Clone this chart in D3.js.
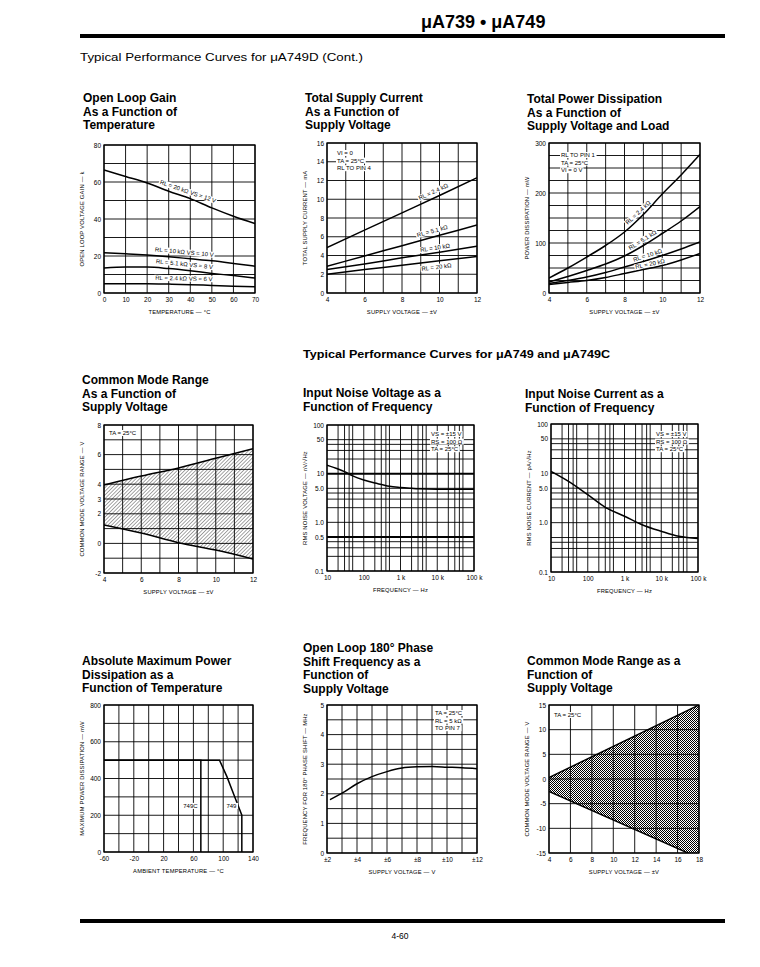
<!DOCTYPE html>
<html>
<head>
<meta charset="utf-8">
<script src="https://d3js.org/d3.v7.min.js"></script>
<style>
  body { margin: 0; background: #fff; }
  svg text { font-family: "Liberation Sans", Arial, sans-serif; fill: #000; }
  .title { font-weight: bold; font-size: 12px; }
  .axis text { font-size: 6.5px; }
  .axt { font-size: 5.8px; letter-spacing: 0.2px; }
  .note, .tag { font-size: 6px; }
  .grid { stroke: #000; stroke-width: 0.9; }
  .frame { fill: none; stroke: #000; stroke-width: 1.3; }
  .curve { fill: none; stroke: #000; stroke-width: 1.5; }
</style>
</head>
<body>
<svg id="page" width="760" height="967"></svg>
<script>
// ---------- data ----------

// open loop gain vs temperature
var gainTemp = [0, 10, 20, 30, 40, 50, 60, 70];
var gain20k = [66.5, 63, 59.5, 55, 51, 46, 41.5, 37.5];
var gain10k = [21.8, 21.2, 20.5, 19.6, 18.5, 17.4, 16, 14.5];
var gain51k = [13.5, 14, 14, 13.2, 12, 10.6, 9.4, 8.1];
var gain24k = [5, 5, 5, 4.8, 4.5, 4.1, 3.7, 3.4];

// total supply current vs supply voltage
var curVolt = [4, 6, 8, 10, 12];
var cur24k = [4.85, 6.7, 8.55, 10.4, 12.3];
var cur51k = [2.85, 3.95, 5.05, 6.15, 7.25];
var cur10k = [2.5, 3.1, 3.75, 4.35, 5.0];
var cur20k = [2.0, 2.5, 2.95, 3.45, 3.9];

// total power dissipation vs supply voltage
var pwrVolt = [4, 5, 6, 7, 8, 9, 10, 11, 12];
var pwr24k = [30, 50, 72, 95, 122, 157, 198, 236, 277];
var pwr51k = [22, 33, 45, 58, 74, 95, 119, 144, 173];
var pwr10k = [19, 25, 32, 41, 52, 63, 75, 88, 102];
var pwr20k = [17, 21, 25, 31, 39, 47, 55, 66, 79];

// common mode range (749D)
var cmrVolt = [4, 6, 8, 10, 12];
var cmrHigh = [3.95, 4.55, 5.1, 5.75, 6.4];
var cmrLow = [1.25, 0.7, 0.05, -0.45, -1.05];

// input noise voltage
var nvFreq = [10, 20, 30, 50, 100, 200, 300, 500, 1000, 2000, 3000, 10000, 100000];
var nvVal = [15, 12.5, 11, 9, 7.4, 6.4, 6.0, 5.5, 5.2, 5.0, 4.9, 4.8, 4.8];

// input noise current
var ncFreq = [10, 30, 100, 300, 1000, 3000, 10000, 30000, 100000];
var ncVal = [11, 6.9, 3.7, 2.05, 1.35, 0.91, 0.67, 0.53, 0.48];

// absolute max power dissipation
var pdTempC = [-60, 70, 70];
var pdValC = [500, 500, 0];
var pdTemp = [-60, 95, 105, 115, 125, 125];
var pdVal = [500, 500, 410, 305, 200, 0];

// 180 deg phase shift frequency
var phVolt = [2.2, 3, 4, 5, 6, 7, 8, 9, 10, 11, 12];
var phFreq = [1.8, 2.02, 2.34, 2.58, 2.75, 2.87, 2.91, 2.92, 2.9, 2.88, 2.85];

// common mode range (749 / 749C)
var cmr2Volt = [4, 18];
var cmr2High = [0.3, 15];
var cmr2Low = [-2.5, -16];

// tick labels
var logTicks = [10, 100, 1000, 10000, 100000];
var logLabels = ["10", "100", "1 k", "10 k", "100 k"];
var nvTicks = [100, 50, 10, 5, 1, 0.5, 0.1];
var nvLabels = ["100", "50", "10", "5.0", "1.0", "0.5", "0.1"];
var ncTicks = [100, 50, 10, 5, 1, 0.1];
var ncLabels = ["100", "50", "10", "5.0", "1.0", "0.1"];
var cmrTicks = [8, 6, 4, 3, 2, 0, -2];
var phTicks = [2, 4, 6, 8, 10, 12];
var phLabels = ["±2", "±4", "±6", "±8", "±10", "±12"];

// ---------- drawing ----------
var svg = d3.select("#page");
var defs = svg.append("defs");
var nClip = 0;

var hatch = defs.append("pattern").attr("id", "hatch").attr("patternUnits", "userSpaceOnUse")
  .attr("width", 2.6).attr("height", 2.6).attr("patternTransform", "rotate(45)");
hatch.append("line").attr("x1", 0).attr("y1", 0).attr("x2", 0).attr("y2", 2.6)
  .attr("stroke", "#000").attr("stroke-width", 0.7);

var cross = defs.append("pattern").attr("id", "cross").attr("patternUnits", "userSpaceOnUse")
  .attr("width", 2).attr("height", 2);
cross.append("rect").attr("width", 1).attr("height", 1).attr("fill", "#000");
cross.append("rect").attr("x", 1).attr("y", 1).attr("width", 1).attr("height", 1).attr("fill", "#000");

function logGrid(lo, hi) {
  var out = [];
  for (var d = lo; d < hi; d *= 10) [1, 2, 3, 4, 5].forEach(function(m) { out.push(d * m); });
  out.push(hi);
  return out;
}

// white patch behind a label so grid lines stop at it, like on the sheet
function knockout(textSel) {
  var node = textSel.node(), bb = node.getBBox();
  d3.select(node.parentNode).insert("rect", function() { return node; })
    .attr("x", bb.x - 1).attr("y", bb.y).attr("width", bb.width + 2).attr("height", bb.height)
    .attr("fill", "#fff");
}

function tag(g, x, y, c, t) {
  var pts = c.x.map(function(v, i) { return [x(v), y(c.y[i])]; });
  var px = x(t.at);
  var i = d3.bisector(function(d) { return d[0]; }).left(pts, px);
  i = Math.min(Math.max(i, 1), pts.length - 1);
  var a = pts[i - 1], b = pts[i];
  var py = a[1] + (px - a[0]) / (b[0] - a[0]) * (b[1] - a[1]);
  var ang = Math.atan2(b[1] - a[1], b[0] - a[0]) * 180 / Math.PI;
  var tg = g.append("g")
    .attr("transform", "translate(" + px + "," + py + ") rotate(" + ang + ") translate(0," + t.dy + ")");
  knockout(tg.append("text").attr("class", "tag").attr("text-anchor", "middle").text(t.text));
}

function plot(o) {
  var g = svg.append("g");
  var x = (o.xlog ? d3.scaleLog() : d3.scaleLinear()).domain(o.xd).range([o.l, o.r]);
  var y = (o.ylog ? d3.scaleLog() : d3.scaleLinear()).domain(o.yd).range([o.b, o.t]);
  var id = "clip" + (++nClip);
  defs.append("clipPath").attr("id", id).append("rect")
    .attr("x", o.l).attr("y", o.t).attr("width", o.r - o.l).attr("height", o.b - o.t);

  o.title.forEach(function(s, i) {
    g.append("text").attr("class", "title").attr("x", o.tx).attr("y", o.ty + i * 13.7).text(s);
  });

  var inner = g.append("g").attr("clip-path", "url(#" + id + ")");
  if (o.band) {
    var b = o.band;
    inner.append("path").datum(d3.range(b.x.length))
      .attr("fill", "url(#" + b.pattern + ")")
      .attr("d", d3.area().x(function(i) { return x(b.x[i]); })
        .y0(function(i) { return y(b.lo[i]); }).y1(function(i) { return y(b.hi[i]); }));
  }

  var bold = o.gyBold || [];
  g.append("g").selectAll("line").data(o.gx).enter().append("line").attr("class", "grid")
    .attr("x1", function(d) { return x(d); }).attr("x2", function(d) { return x(d); })
    .attr("y1", o.t).attr("y2", o.b);
  g.append("g").selectAll("line").data(o.gy).enter().append("line").attr("class", "grid")
    .attr("y1", function(d) { return y(d); }).attr("y2", function(d) { return y(d); })
    .attr("x1", o.l).attr("x2", o.r)
    .style("stroke-width", function(d) { return bold.indexOf(d) >= 0 ? 2 : null; });
  g.append("rect").attr("class", "frame").attr("x", o.l).attr("y", o.t)
    .attr("width", o.r - o.l).attr("height", o.b - o.t);

  var ax = d3.axisBottom(x).tickValues(o.xt).tickSize(0).tickPadding(4)
    .tickFormat(function(d, i) { return o.xl ? o.xl[i] : d; });
  g.append("g").attr("class", "axis").attr("transform", "translate(0," + o.b + ")")
    .call(ax).select(".domain").remove();
  var ay = d3.axisLeft(y).tickValues(o.yt).tickSize(0).tickPadding(3)
    .tickFormat(function(d, i) { return o.yl ? o.yl[i] : d; });
  g.append("g").attr("class", "axis").attr("transform", "translate(" + o.l + ",0)")
    .call(ay).select(".domain").remove();

  g.append("text").attr("class", "axt").attr("text-anchor", "middle")
    .attr("x", (o.l + o.r) / 2).attr("y", o.b + 21).text(o.xtitle);
  g.append("text").attr("class", "axt").attr("text-anchor", "middle")
    .attr("transform", "translate(" + (o.l - 20) + "," + ((o.t + o.b) / 2) + ") rotate(-90)")
    .text(o.ytitle);

  o.curves.forEach(function(c) {
    inner.append("path").attr("class", "curve").attr("stroke-width", c.w || 1.5)
      .datum(d3.range(c.x.length))
      .attr("d", d3.line().x(function(i) { return x(c.x[i]); }).y(function(i) { return y(c.y[i]); })
        .curve(c.linear ? d3.curveLinear : d3.curveMonotoneX));
  });
  (o.tags || []).forEach(function(t) { tag(g, x, y, o.curves[t.c], t); });

  (o.notes || []).forEach(function(n) {
    n.lines.forEach(function(s, i) {
      knockout(g.append("text").attr("class", "note").attr("text-anchor", n.anchor || "start")
        .attr("x", o.l + n.dx).attr("y", o.t + n.dy + i * 7.6).text(s));
    });
  });
  (o.marks || []).forEach(function(m) {
    knockout(g.append("text").attr("class", "tag").attr("text-anchor", "middle")
      .attr("x", x(m.x)).attr("y", y(m.y)).text(m.text));
  });
  return g;
}

// ---------- page furniture ----------
svg.append("text").attr("x", 421).attr("y", 28).attr("font-size", 18).attr("font-weight", "bold")
  .text("μA739 • μA749");
svg.append("rect").attr("x", 80).attr("y", 34).attr("width", 645).attr("height", 4).attr("fill", "#000");
svg.append("text").attr("x", 80).attr("y", 61).attr("font-size", 11)
  .attr("textLength", 283).attr("lengthAdjust", "spacingAndGlyphs")
  .text("Typical Performance Curves for μA749D (Cont.)");
svg.append("text").attr("x", 303).attr("y", 358).attr("font-size", 11.5).attr("font-weight", "bold")
  .attr("textLength", 307).attr("lengthAdjust", "spacingAndGlyphs")
  .text("Typical Performance Curves for μA749 and μA749C");
svg.append("rect").attr("x", 80).attr("y", 919).attr("width", 645).attr("height", 4).attr("fill", "#000");
svg.append("text").attr("x", 400).attr("y", 939).attr("font-size", 8.5).attr("text-anchor", "middle")
  .text("4-60");

// ---------- row 1 ----------
plot({
  l: 104, r: 255, t: 145, b: 293, tx: 83, ty: 102,
  title: ["Open Loop Gain", "As a Function of", "Temperature"],
  xd: [0, 70], yd: [0, 80],
  gx: d3.range(0, 71, 10), gy: d3.range(0, 81, 10),
  xt: d3.range(0, 71, 10), yt: [0, 20, 40, 60, 80],
  xtitle: "TEMPERATURE — °C", ytitle: "OPEN LOOP VOLTAGE GAIN — k",
  curves: [
    { x: gainTemp, y: gain20k }, { x: gainTemp, y: gain10k },
    { x: gainTemp, y: gain51k }, { x: gainTemp, y: gain24k }
  ],
  tags: [
    { c: 0, at: 38, text: "RL = 20 kΩ    VS = 12 V", dy: -4 },
    { c: 1, at: 37, text: "RL = 10 kΩ    VS = 10 V", dy: -4 },
    { c: 2, at: 37, text: "RL = 5.1 kΩ    VS = 8 V", dy: -4 },
    { c: 3, at: 37, text: "RL = 2.4 kΩ    VS = 6 V", dy: -4 }
  ]
});

plot({
  l: 327, r: 477, t: 143, b: 293, tx: 305, ty: 102,
  title: ["Total Supply Current", "As a Function of", "Supply Voltage"],
  xd: [4, 12], yd: [0, 16],
  gx: d3.range(4, 13, 1), gy: d3.range(0, 17, 2),
  xt: [4, 6, 8, 10, 12], yt: d3.range(0, 17, 2),
  xtitle: "SUPPLY VOLTAGE — ±V", ytitle: "TOTAL SUPPLY CURRENT — mA",
  curves: [
    { x: curVolt, y: cur24k }, { x: curVolt, y: cur51k },
    { x: curVolt, y: cur10k }, { x: curVolt, y: cur20k }
  ],
  tags: [
    { c: 0, at: 9.8, text: "RL = 2.4 kΩ", dy: -4 },
    { c: 1, at: 9.7, text: "RL = 5.1 kΩ", dy: -4 },
    { c: 2, at: 9.8, text: "RL = 10 kΩ", dy: -3 },
    { c: 3, at: 9.8, text: "RL = 20 kΩ", dy: 8 }
  ],
  notes: [{ dx: 10, dy: 12, lines: ["VI = 0", "TA = 25°C", "RL TO PIN 4"] }]
});

plot({
  l: 549, r: 700, t: 143, b: 293, tx: 527, ty: 103,
  title: ["Total Power Dissipation", "As a Function of", "Supply Voltage and Load"],
  xd: [4, 12], yd: [0, 300],
  gx: d3.range(4, 13, 1), gy: d3.range(0, 301, 25),
  xt: [4, 6, 8, 10, 12], yt: [0, 100, 200, 300],
  xtitle: "SUPPLY VOLTAGE — ±V", ytitle: "POWER DISSIPATION — mW",
  curves: [
    { x: pwrVolt, y: pwr24k }, { x: pwrVolt, y: pwr51k },
    { x: pwrVolt, y: pwr10k }, { x: pwrVolt, y: pwr20k }
  ],
  tags: [
    { c: 0, at: 8.9, text: "RL = 2.4 kΩ", dy: -3 },
    { c: 1, at: 9.1, text: "RL = 5.1 kΩ", dy: -3 },
    { c: 2, at: 9.3, text: "RL = 10 kΩ", dy: -2.5 },
    { c: 3, at: 9.4, text: "RL = 20 kΩ", dy: -2 }
  ],
  notes: [{ dx: 12, dy: 14, lines: ["RL TO PIN 1", "TA = 25°C", "VI = 0 V"] }]
});

// ---------- row 2 ----------
plot({
  l: 104, r: 253, t: 425, b: 573, tx: 82, ty: 384,
  title: ["Common Mode Range", "As a Function of", "Supply Voltage"],
  xd: [4, 12], yd: [-2, 8],
  gx: d3.range(4, 13, 1), gy: d3.range(-2, 9, 1),
  xt: [4, 6, 8, 10, 12], yt: cmrTicks,
  xtitle: "SUPPLY VOLTAGE — ±V", ytitle: "COMMON MODE VOLTAGE RANGE — V",
  band: { x: cmrVolt, lo: cmrLow, hi: cmrHigh, pattern: "hatch" },
  curves: [{ x: cmrVolt, y: cmrHigh }, { x: cmrVolt, y: cmrLow }],
  notes: [{ dx: 5, dy: 10, lines: ["TA = 25°C"] }]
});

plot({
  l: 327, r: 474, t: 425, b: 571, tx: 303, ty: 397,
  title: ["Input Noise Voltage as a", "Function of Frequency"],
  xlog: true, ylog: true, xd: [10, 100000], yd: [0.1, 100],
  gx: logGrid(10, 100000), gy: logGrid(0.1, 100), gyBold: [10, 0.5],
  xt: logTicks, xl: logLabels, yt: nvTicks, yl: nvLabels,
  xtitle: "FREQUENCY — Hz", ytitle: "RMS NOISE VOLTAGE — nV/√Hz",
  curves: [{ x: nvFreq, y: nvVal, w: 2 }],
  notes: [{ dx: 104, dy: 11, lines: ["VS = ±15 V", "RS = 100 Ω", "TA = 25°C"] }]
});

plot({
  l: 551, r: 698, t: 424, b: 572, tx: 525, ty: 398,
  title: ["Input Noise Current as a", "Function of Frequency"],
  xlog: true, ylog: true, xd: [10, 100000], yd: [0.1, 100],
  gx: logGrid(10, 100000), gy: logGrid(0.1, 100),
  xt: logTicks, xl: logLabels, yt: ncTicks, yl: ncLabels,
  xtitle: "FREQUENCY — Hz", ytitle: "RMS NOISE CURRENT — pA/√Hz",
  curves: [{ x: ncFreq, y: ncVal, w: 1.8 }],
  notes: [{ dx: 105, dy: 12, lines: ["VS = ±15 V", "RS = 100 Ω", "TA = 25°C"] }]
});

// ---------- row 3 ----------
plot({
  l: 104, r: 253, t: 705, b: 852, tx: 82, ty: 665,
  title: ["Absolute Maximum Power", "Dissipation as a", "Function of Temperature"],
  xd: [-60, 140], yd: [0, 800],
  gx: d3.range(-60, 141, 20), gy: d3.range(0, 801, 100),
  xt: [-60, -20, 20, 60, 100, 140], yt: [0, 200, 400, 600, 800],
  xtitle: "AMBIENT TEMPERATURE — °C", ytitle: "MAXIMUM POWER DISSIPATION — mW",
  curves: [{ x: pdTempC, y: pdValC, linear: true }, { x: pdTemp, y: pdVal, linear: true }],
  marks: [{ x: 56, y: 240, text: "749C" }, { x: 111, y: 240, text: "749" }]
});

plot({
  l: 327, r: 477, t: 705, b: 853, tx: 303, ty: 652,
  title: ["Open Loop 180° Phase", "Shift Frequency as a", "Function of", "Supply Voltage"],
  xd: [2, 12], yd: [0, 5],
  gx: d3.range(2, 13, 1), gy: d3.range(0, 5.01, 0.5),
  xt: phTicks, xl: phLabels, yt: [0, 1, 2, 3, 4, 5],
  xtitle: "SUPPLY VOLTAGE — V", ytitle: "FREQUENCY FOR 180° PHASE SHIFT — MHz",
  curves: [{ x: phVolt, y: phFreq, w: 1.8 }],
  notes: [{ dx: 108, dy: 10, lines: ["TA = 25°C", "RL = 5 kΩ", "TO PIN 7"] }]
});

plot({
  l: 549, r: 699, t: 705, b: 853, tx: 527, ty: 665,
  title: ["Common Mode Range as a", "Function of", "Supply Voltage"],
  xd: [4, 18], yd: [-15, 15],
  gx: d3.range(4, 19, 2), gy: d3.range(-15, 16, 5),
  xt: d3.range(4, 19, 2), yt: d3.range(-15, 16, 5),
  xtitle: "SUPPLY VOLTAGE — ±V", ytitle: "COMMON MODE VOLTAGE RANGE — V",
  band: { x: cmr2Volt, lo: cmr2Low, hi: cmr2High, pattern: "cross" },
  curves: [{ x: cmr2Volt, y: cmr2High, linear: true, w: 2 }, { x: cmr2Volt, y: cmr2Low, linear: true, w: 2 }],
  notes: [{ dx: 5, dy: 12, lines: ["TA = 25°C"] }]
});
</script>
</body>
</html>
